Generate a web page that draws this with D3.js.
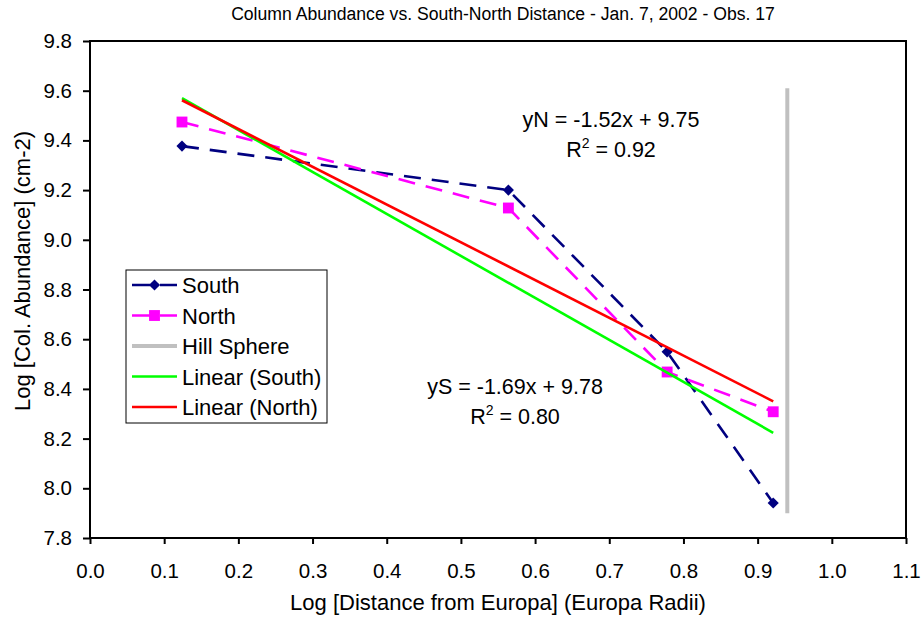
<!DOCTYPE html>
<html>
<head>
<meta charset="utf-8">
<script src="https://cdn.jsdelivr.net/npm/d3@7"></script>
<style>
  body { margin: 0; background: #fff; }
  text { font-family: "Liberation Sans", Arial, sans-serif; fill: #000; }
</style>
</head>
<body>
<svg id="chart" width="924" height="617"></svg>
<script>
const distance = [0.124, 0.564, 0.778, 0.921];
const southValues = [9.377, 9.2, 8.549, 7.941];
const northValues = [9.474, 9.128, 8.468, 8.308];
const hillX = 0.94;
const hillRange = [7.9, 9.61];
// trendline coefficients [slope, intercept]
const fitSouth = [-1.69, 9.78];
const fitNorth = [-1.52, 9.75];
const xTicks = [0, 0.1, 0.2, 0.3, 0.4, 0.5, 0.6, 0.7, 0.8, 0.9, 1.0, 1.1];
const yTicks = [7.8, 8.0, 8.2, 8.4, 8.6, 8.8, 9.0, 9.2, 9.4, 9.6, 9.8];
const legendLabels = ["South", "North", "Hill Sphere", "Linear (South)", "Linear (North)"];

const navy = "#000080";
const magenta = "#ff00ff";
const hillGrey = "#c0c0c0";
const green = "#00ff00";
const red = "#ff0000";

const svg = d3.select("#chart");
const x = d3.scaleLinear().domain([0, 1.1]).range([90, 906]);
const y = d3.scaleLinear().domain([7.8, 9.8]).range([538, 41]);

svg.append("text")
  .attr("x", 503)
  .attr("y", 20)
  .attr("text-anchor", "middle")
  .attr("font-size", "17.6px")
  .text("Column Abundance vs. South-North Distance - Jan. 7, 2002 - Obs. 17");

// axes
const xAxis = svg.append("g")
  .attr("transform", `translate(0, ${y.range()[0]})`)
  .call(d3.axisBottom(x).tickValues(xTicks).tickFormat(d3.format(".1f")).tickSize(6).tickPadding(19));

const yAxis = svg.append("g")
  .attr("transform", `translate(${x.range()[0]}, 0)`)
  .call(d3.axisLeft(y).tickValues(yTicks).tickFormat(d3.format(".1f")).tickSize(7).tickPadding(11));

[xAxis, yAxis].forEach(g => {
  g.select(".domain").remove();
  g.selectAll(".tick line").attr("stroke", "#000").attr("stroke-width", 2);
  g.selectAll(".tick text")
    .attr("font-size", "20.5px")
    .attr("font-family", '"Liberation Sans", Arial, sans-serif')
    .attr("fill", "#000");
});

svg.append("rect")
  .attr("x", x(0))
  .attr("y", y(9.8))
  .attr("width", x(1.1) - x(0))
  .attr("height", y(7.8) - y(9.8))
  .attr("fill", "none")
  .attr("stroke", "#000")
  .attr("stroke-width", 2);

svg.append("text")
  .attr("x", 498)
  .attr("y", 610)
  .attr("text-anchor", "middle")
  .attr("font-size", "22px")
  .text("Log [Distance from Europa] (Europa Radii)");

svg.append("text")
  .attr("transform", "translate(30, 271) rotate(-90)")
  .attr("text-anchor", "middle")
  .attr("font-size", "22px")
  .text("Log [Col. Abundance] (cm-2)");

// data series
const line = d3.line().x(d => x(d[0])).y(d => y(d[1]));
const southPts = distance.map((d, i) => [d, southValues[i]]);
const northPts = distance.map((d, i) => [d, northValues[i]]);

const diamond = d3.symbol().type(d3.symbolSquare).size(62);
const square = d3.symbol().type(d3.symbolSquare).size(118);

svg.append("path")
  .attr("d", line(southPts))
  .attr("fill", "none")
  .attr("stroke", navy)
  .attr("stroke-width", 2.6)
  .attr("stroke-dasharray", "17,11");

svg.append("g")
  .selectAll("path")
  .data(southPts)
  .enter()
  .append("path")
  .attr("d", diamond)
  .attr("fill", navy)
  .attr("transform", d => `translate(${x(d[0])}, ${y(d[1])}) rotate(45)`);

svg.append("path")
  .attr("d", line(northPts))
  .attr("fill", "none")
  .attr("stroke", magenta)
  .attr("stroke-width", 2.6)
  .attr("stroke-dasharray", "17,11");

svg.append("g")
  .selectAll("path")
  .data(northPts)
  .enter()
  .append("path")
  .attr("d", square)
  .attr("fill", magenta)
  .attr("transform", d => `translate(${x(d[0])}, ${y(d[1])})`);

svg.append("line")
  .attr("x1", x(hillX))
  .attr("x2", x(hillX))
  .attr("y1", y(hillRange[0]))
  .attr("y2", y(hillRange[1]))
  .attr("stroke", hillGrey)
  .attr("stroke-width", 4);

const xFirst = distance[0];
const xLast = distance[distance.length - 1];
[[fitSouth, green], [fitNorth, red]].forEach(([f, c]) => {
  svg.append("path")
    .attr("d", line([xFirst, xLast].map(v => [v, f[0] * v + f[1]])))
    .attr("fill", "none")
    .attr("stroke", c)
    .attr("stroke-width", 2.6);
});

// equation labels
const addEquation = (cx, by, name, f, r2) => {
  const sign = f[1] >= 0 ? "+" : "-";
  svg.append("text")
    .attr("x", cx)
    .attr("y", by)
    .attr("text-anchor", "middle")
    .attr("font-size", "21.5px")
    .text(`${name} = ${f[0].toFixed(2)}x ${sign} ${Math.abs(f[1]).toFixed(2)}`);
  const t = svg.append("text")
    .attr("x", cx)
    .attr("y", by + 30)
    .attr("text-anchor", "middle")
    .attr("font-size", "21.5px");
  t.append("tspan").text("R");
  t.append("tspan").attr("dy", -9).attr("font-size", "14px").text("2");
  t.append("tspan").attr("dy", 9).text(` = ${r2}`);
};
addEquation(611, 127, "yN", fitNorth, "0.92");
addEquation(515, 394, "yS", fitSouth, "0.80");

// legend
const legend = svg.append("g").attr("transform", "translate(126, 270)");
legend.append("rect")
  .attr("width", 201)
  .attr("height", 153)
  .attr("fill", "#fff")
  .attr("stroke", "#000")
  .attr("stroke-width", 1);

const legendStyles = [
  { color: navy, dash: "18,10", marker: diamond, rot: 45, w: 2.6 },
  { color: magenta, dash: "18,10", marker: square, rot: 0, w: 2.6 },
  { color: hillGrey, dash: null, marker: null, w: 4 },
  { color: green, dash: null, marker: null, w: 2.6 },
  { color: red, dash: null, marker: null, w: 2.6 }
];

const rows = legend.selectAll(".row")
  .data(legendLabels)
  .enter()
  .append("g")
  .attr("class", "row")
  .attr("transform", (d, i) => `translate(0, ${15 + i * 30.5})`);

rows.append("line")
  .attr("x1", 6)
  .attr("x2", 51)
  .attr("stroke", (d, i) => legendStyles[i].color)
  .attr("stroke-width", (d, i) => legendStyles[i].w)
  .attr("stroke-dasharray", (d, i) => legendStyles[i].dash);

rows.filter((d, i) => legendStyles[i].marker)
  .each(function (d) {
    const s = legendStyles[legendLabels.indexOf(d)];
    d3.select(this)
      .append("path")
      .attr("d", s.marker)
      .attr("fill", s.color)
      .attr("transform", `translate(28.5, 0) rotate(${s.rot})`);
  });

rows.append("text")
  .attr("x", 56)
  .attr("y", 8)
  .attr("font-size", "22px")
  .text(d => d);
</script>
</body>
</html>
